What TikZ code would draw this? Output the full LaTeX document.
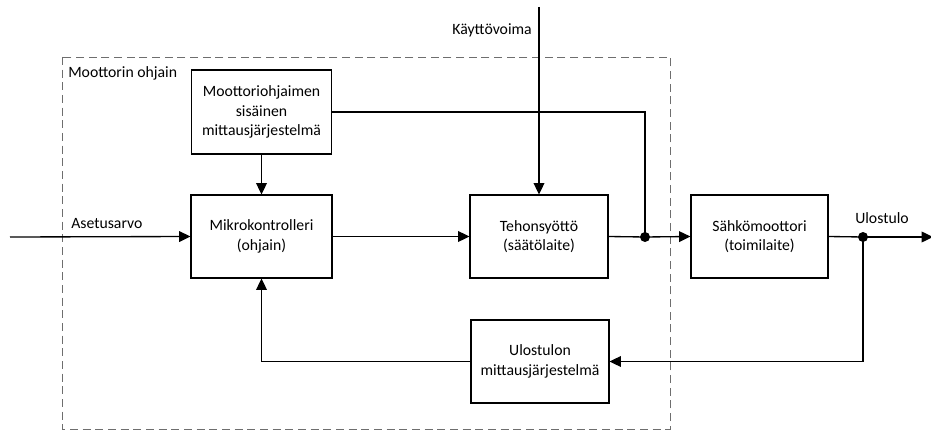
\documentclass[tikz,border=0pt]{standalone}
\usepackage{fontspec}
\setmainfont{Carlito}
\usepackage{tikz}
\usetikzlibrary{calc}
\usetikzlibrary{arrows.meta}
\usetikzlibrary{positioning}
\definecolor{frame}{RGB}{110, 110, 110}

\tikzset{
  block/.style={draw, line width=0.8pt, align=center, font=\fontsize{11.8}{14.5}\selectfont},
  wire/.style={line width=1pt},
  arr/.style={wire, -{Triangle[length=8.5pt,width=8pt]}},
  junction/.style={circle, fill=black, inner sep=0pt, minimum size=7.5pt},
  lbl/.style={font=\fontsize{11.8}{14.5}\selectfont, inner sep=0pt}
}

\begin{document}
\begin{tikzpicture}[x=0.75pt, y=-0.75pt]
            \useasboundingbox (0,0) rectangle (931,431);
            % ohjaimen raja
            \draw[frame, dashed, dash pattern=on 6pt off 3.5pt, line width=0.7pt] (62,57) rectangle (670,429);
            \node[lbl, anchor=west] (ohjain) at (68,73) {Moottorin ohjain};

            \node[block, minimum width=140*0.75pt, minimum height=84*0.75pt] (sisa)  at (261.5,112)   {Moottoriohjaimen\\sisäinen\\mittausjärjestelmä};
            \node[block, minimum width=141*0.75pt, minimum height=83*0.75pt] (mikro) at (261.5,236.5) {Mikrokontrolleri\\(ohjain)};
            \node[block, minimum width=138*0.75pt, minimum height=83*0.75pt] (teho)  at (539,236.5)   {Tehonsyöttö\\(säätölaite)};
            \node[block, minimum width=137*0.75pt, minimum height=83*0.75pt] (sahko) at (759.5,236.5) {Sähkömoottori\\(toimilaite)};
            \node[block, minimum width=138*0.75pt, minimum height=83*0.75pt] (ulos)  at (540,361.5)   {Ulostulon\\mittausjärjestelmä};

            \coordinate (asetus) at (10,237);
            \coordinate (kaytto) at (539,7);
            \coordinate (loppu)  at (933,237);
            \node[junction] (haara1) at (645,237) {};
            \node[junction] (haara2) at (863,237) {};

            \node[lbl, anchor=west] (asetuslbl) at (71,224) {Asetusarvo};
            \node[lbl, anchor=east] (kayttolbl) at (532,30) {Käyttövoima};
            \node[lbl, anchor=west] (uloslbl)   at (855,218) {Ulostulo};

            \draw[arr] (asetus) -- (mikro.west);
            \draw[arr] (mikro.east) -- (teho.west);
            \draw[arr] (kaytto) -- (teho.north);
            \draw[arr] (sisa.south) -- (mikro.north);
            \draw[wire] (sisa.east) -| (haara1.center);
            \draw[wire] (teho.east) -- (haara1.center);
            \draw[arr] (haara1.center) -- (sahko.west);
            \draw[wire] (sahko.east) -- (haara2.center);
            \draw[arr] (haara2.center) -- (loppu);
            \draw[arr] (haara2.center) |- (ulos.east);
            \draw[arr] (ulos.west) -| (mikro.south);
        \end{tikzpicture}
\end{document}
